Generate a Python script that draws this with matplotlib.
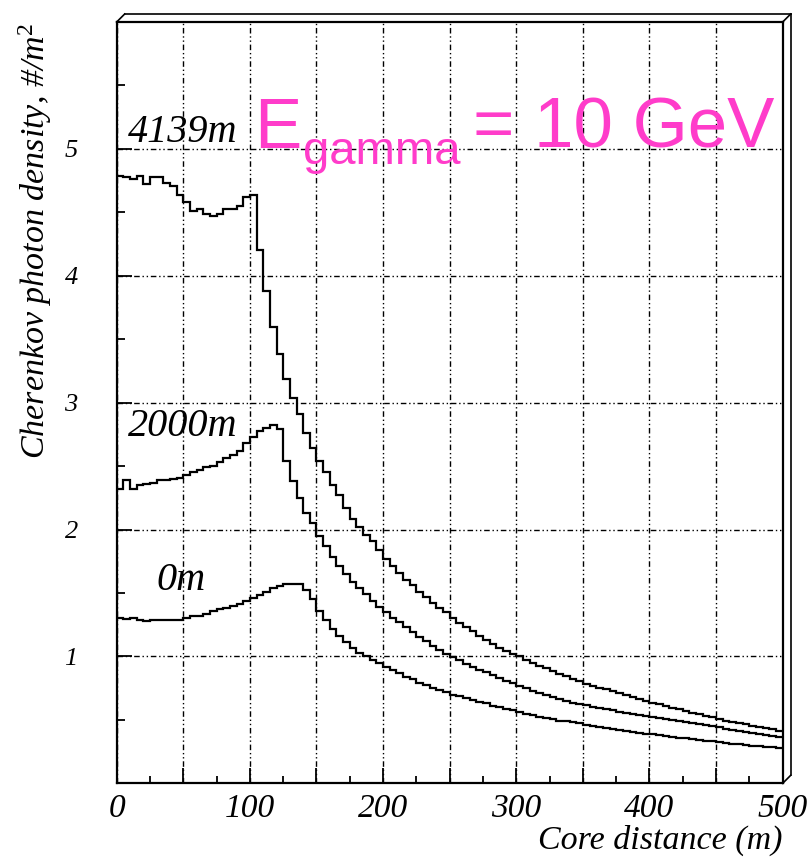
"""Cherenkov photon lateral density for a 10 GeV gamma shower at three observation levels."""

import matplotlib
matplotlib.use("Agg")
import matplotlib.pyplot as plt
from matplotlib.lines import Line2D
from matplotlib.ticker import FixedLocator, MultipleLocator, FuncFormatter
import numpy as np

# ---------------------------------------------------------------------------
# Data (5 m bins, 0-500 m core distance)
# ---------------------------------------------------------------------------

bin_width = 5.0
n_bins = 100

density_4139m = [
    4.79, 4.78, 4.76, 4.79, 4.72, 4.775, 4.775, 4.735, 4.71, 4.64,
    4.58, 4.51, 4.53, 4.49, 4.47, 4.49, 4.53, 4.53, 4.55, 4.62,
    4.635, 4.20, 3.88, 3.60, 3.385, 3.19, 3.04, 2.91, 2.76, 2.64,
    2.54, 2.45, 2.35, 2.27, 2.17, 2.08, 2.02, 1.96, 1.91, 1.84,
    1.77, 1.71, 1.66, 1.605, 1.56, 1.51, 1.47, 1.425, 1.385, 1.35,
    1.30, 1.26, 1.23, 1.20, 1.16, 1.13, 1.10, 1.07, 1.045, 1.02,
    1.00, 0.975, 0.95, 0.925, 0.905, 0.885, 0.865, 0.845, 0.825, 0.805,
    0.785, 0.77, 0.755, 0.74, 0.725, 0.71, 0.695, 0.68, 0.665, 0.65,
    0.636, 0.622, 0.608, 0.595, 0.582, 0.57, 0.557, 0.545, 0.532, 0.52,
    0.505, 0.495, 0.485, 0.475, 0.465, 0.455, 0.445, 0.435, 0.425, 0.415,
]

density_2000m = [
    2.32, 2.39, 2.32, 2.35, 2.36, 2.37, 2.39, 2.39, 2.40, 2.405,
    2.43, 2.45, 2.47, 2.49, 2.50, 2.53, 2.56, 2.585, 2.62, 2.68,
    2.73, 2.775, 2.80, 2.82, 2.79, 2.54, 2.38, 2.25, 2.13, 2.05,
    1.95, 1.87, 1.78, 1.71, 1.65, 1.59, 1.54, 1.49, 1.44, 1.39,
    1.35, 1.30, 1.27, 1.23, 1.19, 1.15, 1.12, 1.08, 1.05, 1.02,
    0.995, 0.97, 0.94, 0.92, 0.895, 0.875, 0.85, 0.83, 0.81, 0.79,
    0.77, 0.75, 0.73, 0.715, 0.70, 0.68, 0.665, 0.65, 0.635, 0.625,
    0.615, 0.605, 0.595, 0.585, 0.575, 0.565, 0.555, 0.545, 0.54, 0.532,
    0.525, 0.515, 0.507, 0.498, 0.49, 0.481, 0.473, 0.465, 0.457, 0.448,
    0.44, 0.432, 0.424, 0.416, 0.408, 0.40, 0.392, 0.384, 0.376, 0.368,
]

density_0m = [
    1.30, 1.295, 1.30, 1.29, 1.28, 1.29, 1.29, 1.29, 1.29, 1.29,
    1.30, 1.315, 1.315, 1.335, 1.355, 1.37, 1.385, 1.40, 1.415, 1.435,
    1.46, 1.485, 1.51, 1.54, 1.555, 1.57, 1.57, 1.57, 1.52, 1.45,
    1.36, 1.29, 1.22, 1.16, 1.11, 1.07, 1.03, 1.00, 0.975, 0.95,
    0.92, 0.895, 0.87, 0.84, 0.82, 0.79, 0.775, 0.755, 0.735, 0.72,
    0.70, 0.685, 0.67, 0.655, 0.64, 0.63, 0.61, 0.60, 0.585, 0.575,
    0.56, 0.545, 0.535, 0.525, 0.515, 0.505, 0.495, 0.488, 0.48, 0.472,
    0.458, 0.45, 0.442, 0.435, 0.428, 0.42, 0.413, 0.406, 0.399, 0.392,
    0.386, 0.38, 0.373, 0.366, 0.36, 0.354, 0.348, 0.342, 0.336, 0.33,
    0.324, 0.318, 0.313, 0.308, 0.303, 0.298, 0.294, 0.29, 0.286, 0.282,
]

curve_labels = ["4139m", "2000m", "0m"]
# label anchor (core distance, density) for each curve label
label_pos = [(8.5, 5.13), (8.5, 2.81), (30.0, 1.60)]

x_tick_labels = ["0", "100", "200", "300", "400", "500"]
y_tick_labels = ["1", "2", "3", "4", "5"]

SERIF = ["Liberation Serif", "DejaVu Serif"]
SANS = ["Liberation Sans", "DejaVu Sans"]
MAGENTA = "#ff3cca"


# ---------------------------------------------------------------------------
# Frame decoration (ROOT-style bevelled frame)
# ---------------------------------------------------------------------------

def add_frame_shadow(fig, ax, off_px=8.0):
    W, H = fig.get_size_inches() * fig.dpi
    x0, y0, w, h = ax.get_position().bounds
    x1, y1 = x0 + w, y0 + h
    dx, dy = off_px / W, off_px / H
    pts = [
        ([x0, x0 + dx], [y1, y1 + dy]),
        ([x0 + dx, x1 + dx], [y1 + dy, y1 + dy]),
        ([x1 + dx, x1 + dx], [y1 + dy, y0 + dy]),
        ([x1 + dx, x1], [y0 + dy, y0]),
        ([x1, x1 + dx], [y1, y1 + dy]),
    ]
    for xs, ys in pts:
        fig.add_artist(Line2D(xs, ys, transform=fig.transFigure,
                              color="black", linewidth=1.2))


# ---------------------------------------------------------------------------
# Main plot
# ---------------------------------------------------------------------------

def main() -> None:
    # math superscript in the same italic serif as the labels
    plt.rcParams["mathtext.fontset"] = "custom"
    plt.rcParams["mathtext.rm"] = "Liberation Serif"
    plt.rcParams["mathtext.it"] = "Liberation Serif:italic"
    plt.rcParams["mathtext.default"] = "it"

    fig = plt.figure(figsize=(8.12, 8.59), dpi=100)
    ax = fig.add_axes([0.1437, 0.0881, 0.8202, 0.8863])

    edges = np.arange(n_bins + 1) * bin_width
    for vals in (density_4139m, density_2000m, density_0m):
        ax.stairs(vals, edges, color="black", linewidth=1.6, baseline=None)

    ax.set_xlim(0, 500)
    ax.set_ylim(0, 6)

    # ticks
    ax.xaxis.set_major_locator(MultipleLocator(50))
    ax.xaxis.set_minor_locator(MultipleLocator(25))
    ax.xaxis.set_major_formatter(FuncFormatter(
        lambda v, p: x_tick_labels[int(round(v / 100))] if round(v) % 100 == 0 else ""))
    ax.yaxis.set_major_locator(FixedLocator([1, 2, 3, 4, 5]))
    ax.yaxis.set_minor_locator(FixedLocator([0.5, 1.5, 2.5, 3.5, 4.5, 5.5]))
    ax.set_yticklabels(y_tick_labels)

    ax.tick_params(axis="both", which="both", direction="in",
                   top=False, right=False, width=1.3)
    ax.tick_params(axis="x", which="major", length=11, pad=7)
    ax.tick_params(axis="x", which="minor", length=5)
    ax.tick_params(axis="y", which="major", length=11, pad=28)
    ax.tick_params(axis="y", which="minor", length=6)

    for lab in ax.get_xticklabels():
        lab.set_fontfamily(SERIF)
        lab.set_fontstyle("italic")
        lab.set_fontsize(24)
    for lab in ax.get_yticklabels():
        lab.set_fontfamily(SERIF)
        lab.set_fontstyle("italic")
        lab.set_fontsize(19)

    ax.grid(True, which="major", color="black", linewidth=1.0,
            linestyle=(0, (4, 2, 1, 2, 1, 2)))

    for sp in ax.spines.values():
        sp.set_linewidth(1.6)

    # curve labels
    for text, (x, y) in zip(curve_labels, label_pos):
        ax.text(x, y, text, fontsize=29, family=SERIF, style="italic",
                ha="left", va="center")

    # energy annotation: "E", subscript "gamma", then "= 10 GeV"
    t_e = ax.text(103.5, 5.01, "E", fontsize=51, family=SANS,
                  color=MAGENTA, ha="left", va="baseline")
    t_sub = ax.annotate("gamma", xy=(1, 0), xycoords=t_e,
                        xytext=(1, -1), textcoords="offset points",
                        fontsize=34, family=SANS, color=MAGENTA,
                        ha="left", va="baseline")
    ax.annotate("= 10 GeV", xy=(1, 0), xycoords=(t_sub, t_e),
                xytext=(9, 0), textcoords="offset points",
                fontsize=51, family=SANS, color=MAGENTA,
                ha="left", va="bottom")

    fig.text(0.043, 0.973, r"Cherenkov photon density, #/m$^{2}$",
             rotation=90, ha="center", va="top", fontsize=24.5,
             family=SERIF, style="italic")
    fig.text(0.964, 1 - 840 / 859, "Core distance (m)", ha="right",
             va="center", fontsize=24.5, family=SERIF, style="italic")

    add_frame_shadow(fig, ax)

    fig.savefig("out.png", dpi=100)
    plt.close(fig)


if __name__ == "__main__":
    main()
